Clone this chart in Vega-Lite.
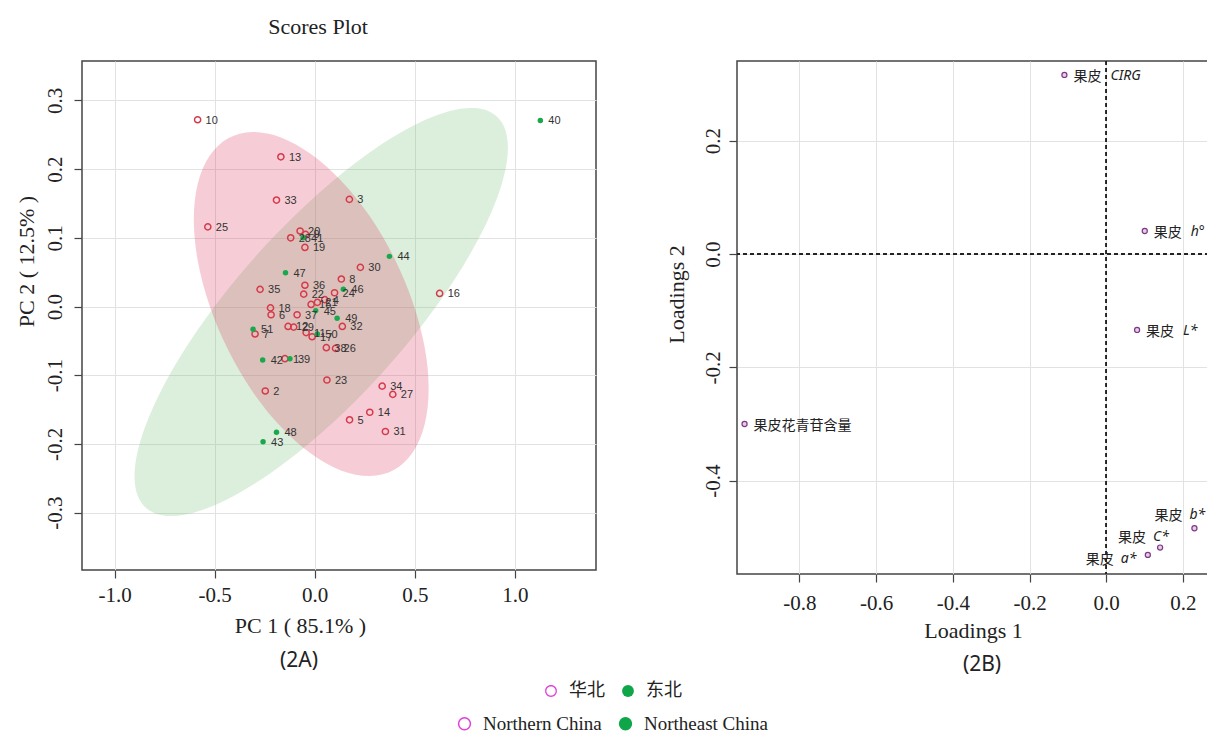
{
  "$schema": "https://vega.github.io/schema/vega-lite/v6.json",
  "background": "white",
  "padding": {"left": 14, "top": 15, "right": 0, "bottom": 0},
  "title": {"text": "Scores Plot", "anchor": "start", "frame": "bounds", "dx": 254, "offset": 21, "font": "Liberation Serif", "fontSize": 22, "fontWeight": "normal", "color": "#222"},
  "datasets": {
    "scores": [
      {"id": "10", "pc1": -0.585, "pc2": 0.272, "cn": "华北", "en": "Northern China"},
      {"id": "13", "pc1": -0.169, "pc2": 0.218, "cn": "华北", "en": "Northern China"},
      {"id": "33", "pc1": -0.191, "pc2": 0.155, "cn": "华北", "en": "Northern China"},
      {"id": "3", "pc1": 0.173, "pc2": 0.156, "cn": "华北", "en": "Northern China"},
      {"id": "25", "pc1": -0.534, "pc2": 0.116, "cn": "华北", "en": "Northern China"},
      {"id": "20", "pc1": -0.073, "pc2": 0.110, "cn": "华北", "en": "Northern China"},
      {"id": "9", "pc1": -0.046, "pc2": 0.105, "cn": "华北", "en": "Northern China"},
      {"id": "28", "pc1": -0.120, "pc2": 0.100, "cn": "华北", "en": "Northern China"},
      {"id": "19", "pc1": -0.049, "pc2": 0.086, "cn": "华北", "en": "Northern China"},
      {"id": "30", "pc1": 0.228, "pc2": 0.057, "cn": "华北", "en": "Northern China"},
      {"id": "8", "pc1": 0.133, "pc2": 0.040, "cn": "华北", "en": "Northern China"},
      {"id": "36", "pc1": -0.049, "pc2": 0.031, "cn": "华北", "en": "Northern China"},
      {"id": "35", "pc1": -0.273, "pc2": 0.025, "cn": "华北", "en": "Northern China"},
      {"id": "24", "pc1": 0.099, "pc2": 0.020, "cn": "华北", "en": "Northern China"},
      {"id": "22", "pc1": -0.055, "pc2": 0.018, "cn": "华北", "en": "Northern China"},
      {"id": "16", "pc1": 0.624, "pc2": 0.019, "cn": "华北", "en": "Northern China"},
      {"id": "4", "pc1": 0.050, "pc2": 0.010, "cn": "华北", "en": "Northern China"},
      {"id": "21", "pc1": 0.013, "pc2": 0.006, "cn": "华北", "en": "Northern China"},
      {"id": "15", "pc1": -0.018, "pc2": 0.003, "cn": "华北", "en": "Northern China"},
      {"id": "18", "pc1": -0.221, "pc2": -0.002, "cn": "华北", "en": "Northern China"},
      {"id": "6", "pc1": -0.218, "pc2": -0.012, "cn": "华北", "en": "Northern China"},
      {"id": "37", "pc1": -0.088, "pc2": -0.012, "cn": "华北", "en": "Northern China"},
      {"id": "32", "pc1": 0.138, "pc2": -0.029, "cn": "华北", "en": "Northern China"},
      {"id": "7", "pc1": -0.298, "pc2": -0.040, "cn": "华北", "en": "Northern China"},
      {"id": "12", "pc1": -0.133, "pc2": -0.029, "cn": "华北", "en": "Northern China"},
      {"id": "29", "pc1": -0.105, "pc2": -0.030, "cn": "华北", "en": "Northern China"},
      {"id": "11", "pc1": -0.043, "pc2": -0.038, "cn": "华北", "en": "Northern China"},
      {"id": "17", "pc1": -0.013, "pc2": -0.044, "cn": "华北", "en": "Northern China"},
      {"id": "38", "pc1": 0.058, "pc2": -0.060, "cn": "华北", "en": "Northern China"},
      {"id": "26", "pc1": 0.104, "pc2": -0.061, "cn": "华北", "en": "Northern China"},
      {"id": "1", "pc1": -0.149, "pc2": -0.076, "cn": "华北", "en": "Northern China"},
      {"id": "23", "pc1": 0.061, "pc2": -0.107, "cn": "华北", "en": "Northern China"},
      {"id": "2", "pc1": -0.247, "pc2": -0.123, "cn": "华北", "en": "Northern China"},
      {"id": "34", "pc1": 0.337, "pc2": -0.116, "cn": "华北", "en": "Northern China"},
      {"id": "27", "pc1": 0.390, "pc2": -0.128, "cn": "华北", "en": "Northern China"},
      {"id": "14", "pc1": 0.275, "pc2": -0.154, "cn": "华北", "en": "Northern China"},
      {"id": "5", "pc1": 0.174, "pc2": -0.165, "cn": "华北", "en": "Northern China"},
      {"id": "31", "pc1": 0.353, "pc2": -0.182, "cn": "华北", "en": "Northern China"},
      {"id": "40", "pc1": 1.127, "pc2": 0.271, "cn": "东北", "en": "Northeast China"},
      {"id": "41", "pc1": -0.058, "pc2": 0.100, "cn": "东北", "en": "Northeast China"},
      {"id": "44", "pc1": 0.373, "pc2": 0.073, "cn": "东北", "en": "Northeast China"},
      {"id": "47", "pc1": -0.146, "pc2": 0.049, "cn": "东北", "en": "Northeast China"},
      {"id": "46", "pc1": 0.143, "pc2": 0.025, "cn": "东北", "en": "Northeast China"},
      {"id": "45", "pc1": 0.005, "pc2": -0.006, "cn": "东北", "en": "Northeast China"},
      {"id": "49", "pc1": 0.112, "pc2": -0.017, "cn": "东北", "en": "Northeast China"},
      {"id": "51", "pc1": -0.308, "pc2": -0.033, "cn": "东北", "en": "Northeast China"},
      {"id": "50", "pc1": 0.013, "pc2": -0.040, "cn": "东北", "en": "Northeast China"},
      {"id": "42", "pc1": -0.260, "pc2": -0.078, "cn": "东北", "en": "Northeast China"},
      {"id": "39", "pc1": -0.124, "pc2": -0.076, "cn": "东北", "en": "Northeast China"},
      {"id": "48", "pc1": -0.191, "pc2": -0.183, "cn": "东北", "en": "Northeast China"},
      {"id": "43", "pc1": -0.258, "pc2": -0.197, "cn": "东北", "en": "Northeast China"}
    ],
    "ell": [
      {"g": "N", "i": 0, "x": 0.569, "y": -0.1196},
      {"g": "N", "i": 1, "x": 0.549, "y": -0.1718},
      {"g": "N", "i": 2, "x": 0.490, "y": -0.2122},
      {"g": "N", "i": 3, "x": 0.397, "y": -0.2377},
      {"g": "N", "i": 4, "x": 0.276, "y": -0.2469},
      {"g": "N", "i": 5, "x": 0.134, "y": -0.2390},
      {"g": "N", "i": 6, "x": -0.0175, "y": -0.2145},
      {"g": "N", "i": 7, "x": -0.169, "y": -0.1752},
      {"g": "N", "i": 8, "x": -0.311, "y": -0.1237},
      {"g": "N", "i": 9, "x": -0.432, "y": -0.0635},
      {"g": "N", "i": 10, "x": -0.525, "y": 0.0012},
      {"g": "N", "i": 11, "x": -0.584, "y": 0.0662},
      {"g": "N", "i": 12, "x": -0.604, "y": 0.1268},
      {"g": "N", "i": 13, "x": -0.584, "y": 0.1790},
      {"g": "N", "i": 14, "x": -0.525, "y": 0.2194},
      {"g": "N", "i": 15, "x": -0.432, "y": 0.2449},
      {"g": "N", "i": 16, "x": -0.311, "y": 0.2541},
      {"g": "N", "i": 17, "x": -0.169, "y": 0.2462},
      {"g": "N", "i": 18, "x": -0.0175, "y": 0.2217},
      {"g": "N", "i": 19, "x": 0.134, "y": 0.1824},
      {"g": "N", "i": 20, "x": 0.276, "y": 0.1309},
      {"g": "N", "i": 21, "x": 0.397, "y": 0.0707},
      {"g": "N", "i": 22, "x": 0.490, "y": 0.0060},
      {"g": "N", "i": 23, "x": 0.549, "y": -0.0590},
      {"g": "NE", "i": 0, "x": 0.965, "y": 0.2311},
      {"g": "NE", "i": 1, "x": 0.933, "y": 0.1774},
      {"g": "NE", "i": 2, "x": 0.840, "y": 0.1109},
      {"g": "NE", "i": 3, "x": 0.692, "y": 0.0364},
      {"g": "NE", "i": 4, "x": 0.499, "y": -0.0411},
      {"g": "NE", "i": 5, "x": 0.274, "y": -0.1164},
      {"g": "NE", "i": 6, "x": 0.0326, "y": -0.1843},
      {"g": "NE", "i": 7, "x": -0.209, "y": -0.2402},
      {"g": "NE", "i": 8, "x": -0.434, "y": -0.2803},
      {"g": "NE", "i": 9, "x": -0.627, "y": -0.3018},
      {"g": "NE", "i": 10, "x": -0.775, "y": -0.3033},
      {"g": "NE", "i": 11, "x": -0.868, "y": -0.2846},
      {"g": "NE", "i": 12, "x": -0.900, "y": -0.2471},
      {"g": "NE", "i": 13, "x": -0.868, "y": -0.1934},
      {"g": "NE", "i": 14, "x": -0.775, "y": -0.1269},
      {"g": "NE", "i": 15, "x": -0.627, "y": -0.0524},
      {"g": "NE", "i": 16, "x": -0.434, "y": 0.0251},
      {"g": "NE", "i": 17, "x": -0.209, "y": 0.1004},
      {"g": "NE", "i": 18, "x": 0.0326, "y": 0.1683},
      {"g": "NE", "i": 19, "x": 0.274, "y": 0.2242},
      {"g": "NE", "i": 20, "x": 0.499, "y": 0.2643},
      {"g": "NE", "i": 21, "x": 0.692, "y": 0.2858},
      {"g": "NE", "i": 22, "x": 0.840, "y": 0.2873},
      {"g": "NE", "i": 23, "x": 0.933, "y": 0.2686}
    ],
    "loadings": [
      {"cn": "果皮", "var": "CIRG", "l1": -0.109, "l2": 0.316},
      {"cn": "果皮", "var": "h°", "l1": 0.1005, "l2": 0.0406},
      {"cn": "果皮", "var": "L*", "l1": 0.0805, "l2": -0.134},
      {"cn": "果皮花青苷含量", "var": "none", "l1": -0.943, "l2": -0.300},
      {"cn": "果皮", "var": "b*", "l1": 0.230, "l2": -0.484},
      {"cn": "果皮", "var": "C*", "l1": 0.1405, "l2": -0.518},
      {"cn": "果皮", "var": "a*", "l1": 0.1085, "l2": -0.531}
    ]
  },
  "spacing": 67,
  "resolve": {
    "scale": {"color": "shared", "shape": "shared", "stroke": "shared", "fill": "shared"},
    "legend": {"color": "shared", "shape": "shared", "stroke": "shared", "fill": "shared"}
  },
  "hconcat": [
    {
      "width": 514,
      "height": 509,
      "title": {"text": "(2A)", "orient": "bottom", "font": "Noto Sans", "fontSize": 21, "fontWeight": "normal", "color": "#222", "dx": -40, "offset": 14},
      "layer": [
        {
          "data": {"name": "ell"},
          "transform": [{"filter": "datum.g == 'NE'"}],
          "mark": {"type": "line", "interpolate": "cardinal-closed", "fill": "#73bb73", "fillOpacity": 0.25, "strokeOpacity": 0, "clip": true},
          "encoding": {
            "x": {"field": "x", "type": "quantitative", "scale": {"domain": [-1.1625, 1.405], "nice": false, "zero": false},
              "axis": {"values": [-1, -0.5, 0, 0.5, 1], "format": ".1f", "labelExpr": "replace(datum.label, '\u2212', '-')", "title": "PC 1 ( 85.1% )", "titleX": 218, "labelPadding": 6, "titlePadding": 10}},
            "y": {"field": "y", "type": "quantitative", "scale": {"domain": [-0.3837, 0.3575], "nice": false, "zero": false},
              "axis": {"values": [-0.3, -0.2, -0.1, 0, 0.1, 0.2, 0.3], "format": ".1f", "labelExpr": "replace(datum.label, '\u2212', '-')", "labelAngle": 270, "title": "PC 2 ( 12.5% )", "titleY": 200, "labelPadding": 9, "titlePadding": 6}},
            "order": {"field": "i", "type": "quantitative"}
          }
        },
        {
          "data": {"name": "ell"},
          "transform": [{"filter": "datum.g == 'N'"}],
          "mark": {"type": "line", "interpolate": "cardinal-closed", "fill": "#db375b", "fillOpacity": 0.25, "strokeOpacity": 0, "clip": true},
          "encoding": {
            "x": {"field": "x", "type": "quantitative"},
            "y": {"field": "y", "type": "quantitative"},
            "order": {"field": "i", "type": "quantitative"}
          }
        },
        {
          "mark": {"type": "rule", "color": "#111", "strokeWidth": 1, "strokeDash": [4, 3]},
          "encoding": {"x": {"datum": 0, "type": "quantitative"}}
        },
        {
          "mark": {"type": "rule", "color": "#111", "strokeWidth": 1, "strokeDash": [4, 3]},
          "encoding": {"y": {"datum": 0, "type": "quantitative"}}
        },
        {
          "data": {"name": "scores"},
          "transform": [{"filter": "datum.pc1 > 5"}],
          "mark": {"type": "point", "filled": true, "opacity": 1},
          "encoding": {
            "x": {"field": "pc1", "type": "quantitative"},
            "y": {"field": "pc2", "type": "quantitative"},
            "color": {"field": "cn", "type": "nominal", "scale": {"domain": ["华北", "东北"], "range": ["#e33fdc", "#0fa64a"]},
              "legend": {"title": null, "orient": "bottom", "direction": "horizontal", "labelFont": "Noto Sans CJK SC", "labelFontSize": 18, "symbolOpacity": 1}},
            "shape": {"field": "cn", "type": "nominal", "scale": {"domain": ["华北", "东北"], "range": ["M0,-1A1,1,0,1,1,0,1A1,1,0,1,1,0,-1ZM0,-0.78A0.78,0.78,0,1,0,0,0.78A0.78,0.78,0,1,0,0,-0.78Z", "circle"]},
              "legend": {"title": null, "orient": "bottom", "direction": "horizontal", "labelFont": "Noto Sans CJK SC", "labelFontSize": 18, "symbolOpacity": 1}}
          }
        },
        {
          "data": {"name": "scores"},
          "transform": [{"filter": "datum.pc1 > 5"}],
          "mark": {"type": "point", "shape": "circle", "strokeWidth": 1.5, "opacity": 1},
          "encoding": {
            "x": {"field": "pc1", "type": "quantitative"},
            "y": {"field": "pc2", "type": "quantitative"},
            "stroke": {"field": "en", "type": "nominal", "scale": {"domain": ["Northern China", "Northeast China"], "range": ["#e33fdc", "#0fa64a"]},
              "legend": {"title": null, "orient": "bottom", "direction": "horizontal", "labelFont": "Liberation Serif", "labelFontSize": 19, "symbolOpacity": 1}},
            "fill": {"field": "en", "type": "nominal", "scale": {"domain": ["Northern China", "Northeast China"], "range": ["transparent", "#0fa64a"]},
              "legend": {"title": null, "orient": "bottom", "direction": "horizontal", "labelFont": "Liberation Serif", "labelFontSize": 19, "symbolOpacity": 1}}
          }
        },
        {
          "data": {"name": "scores"},
          "transform": [{"filter": "datum.cn == '华北'"}],
          "mark": {"type": "point", "shape": "circle", "size": 38, "strokeWidth": 1.5, "filled": false, "stroke": "#d63a4a", "opacity": 1},
          "encoding": {
            "x": {"field": "pc1", "type": "quantitative"},
            "y": {"field": "pc2", "type": "quantitative"}
          }
        },
        {
          "data": {"name": "scores"},
          "transform": [{"filter": "datum.cn == '东北'"}],
          "mark": {"type": "point", "shape": "circle", "size": 30, "filled": true, "fill": "#1aa84c", "opacity": 1},
          "encoding": {
            "x": {"field": "pc1", "type": "quantitative"},
            "y": {"field": "pc2", "type": "quantitative"}
          }
        },
        {
          "data": {"name": "scores"},
          "mark": {"type": "text", "align": "left", "baseline": "middle", "dx": 8, "dy": 1, "font": "Liberation Sans", "fontSize": 11, "color": "#333"},
          "encoding": {
            "x": {"field": "pc1", "type": "quantitative"},
            "y": {"field": "pc2", "type": "quantitative"},
            "text": {"field": "id"}
          }
        }
      ]
    },
    {
      "width": 472,
      "height": 513,
      "title": {"text": "(2B)", "orient": "bottom", "font": "Noto Sans", "fontSize": 21, "fontWeight": "normal", "color": "#222", "dx": 9, "offset": 13},
      "data": {"name": "loadings"},
      "layer": [
        {
          "mark": {"type": "rule", "color": "#222", "strokeWidth": 1, "strokeDash": [4, 3]},
          "encoding": {"x": {"datum": 0, "type": "quantitative", "scale": {"domain": [-0.9627, 0.268], "nice": false, "zero": false},
            "axis": {"values": [-0.8, -0.6, -0.4, -0.2, 0, 0.2], "format": ".1f", "labelExpr": "replace(datum.label, '\u2212', '-')", "title": "Loadings 1", "labelPadding": 10, "titlePadding": 7}}}
        },
        {
          "mark": {"type": "rule", "color": "#222", "strokeWidth": 1, "strokeDash": [4, 3]},
          "encoding": {"y": {"datum": 0, "type": "quantitative", "scale": {"domain": [-0.5647, 0.3406], "nice": false, "zero": false},
            "axis": {"values": [-0.4, -0.2, 0, 0.2], "format": ".1f", "labelExpr": "replace(datum.label, '\u2212', '-')", "labelAngle": 270, "title": "Loadings 2", "titleY": 233, "labelPadding": 6, "titlePadding": 14}}}
        },
        {
          "mark": {"type": "point", "shape": "circle", "size": 26, "filled": false, "fill": "#ecc8ee", "fillOpacity": 1, "stroke": "#7a3a80", "strokeWidth": 1.2, "opacity": 1},
          "encoding": {"x": {"field": "l1", "type": "quantitative"}, "y": {"field": "l2", "type": "quantitative"}}
        },
        {
          "transform": [{"filter": "datum.var == 'CIRG' || datum.var == 'h°' || datum.var == 'L*' || datum.var == 'none'"}],
          "mark": {"type": "text", "align": "left", "baseline": "middle", "dx": 9, "dy": 2, "font": "Noto Sans CJK SC", "fontSize": 14, "color": "#222", "clip": true},
          "encoding": {"x": {"field": "l1", "type": "quantitative"}, "y": {"field": "l2", "type": "quantitative"}, "text": {"field": "cn"}}
        },
        {
          "transform": [{"filter": "datum.var == 'CIRG' || datum.var == 'h°' || datum.var == 'L*'"}],
          "mark": {"type": "text", "align": "left", "baseline": "middle", "dx": 46, "dy": 1, "font": "Noto Sans", "fontStyle": "italic", "fontSize": 14, "color": "#222", "clip": true},
          "encoding": {"x": {"field": "l1", "type": "quantitative"}, "y": {"field": "l2", "type": "quantitative"}, "text": {"field": "var"}}
        },
        {
          "transform": [{"filter": "datum.var == 'b*'"}],
          "mark": {"type": "text", "align": "right", "baseline": "middle", "dx": -12, "dy": -12, "font": "Noto Sans CJK SC", "fontSize": 14, "color": "#222", "clip": true},
          "encoding": {"x": {"field": "l1", "type": "quantitative"}, "y": {"field": "l2", "type": "quantitative"}, "text": {"field": "cn"}}
        },
        {
          "transform": [{"filter": "datum.var == 'b*'"}],
          "mark": {"type": "text", "align": "left", "baseline": "middle", "dx": -5, "dy": -13, "font": "Noto Sans", "fontStyle": "italic", "fontSize": 14, "color": "#222", "clip": true},
          "encoding": {"x": {"field": "l1", "type": "quantitative"}, "y": {"field": "l2", "type": "quantitative"}, "text": {"field": "var"}}
        },
        {
          "transform": [{"filter": "datum.var == 'C*'"}],
          "mark": {"type": "text", "align": "right", "baseline": "middle", "dx": -14, "dy": -10, "font": "Noto Sans CJK SC", "fontSize": 14, "color": "#222", "clip": true},
          "encoding": {"x": {"field": "l1", "type": "quantitative"}, "y": {"field": "l2", "type": "quantitative"}, "text": {"field": "cn"}}
        },
        {
          "transform": [{"filter": "datum.var == 'C*'"}],
          "mark": {"type": "text", "align": "left", "baseline": "middle", "dx": -7, "dy": -11, "font": "Noto Sans", "fontStyle": "italic", "fontSize": 14, "color": "#222", "clip": true},
          "encoding": {"x": {"field": "l1", "type": "quantitative"}, "y": {"field": "l2", "type": "quantitative"}, "text": {"field": "var"}}
        },
        {
          "transform": [{"filter": "datum.var == 'a*'"}],
          "mark": {"type": "text", "align": "right", "baseline": "middle", "dx": -34, "dy": 5, "font": "Noto Sans CJK SC", "fontSize": 14, "color": "#222", "clip": true},
          "encoding": {"x": {"field": "l1", "type": "quantitative"}, "y": {"field": "l2", "type": "quantitative"}, "text": {"field": "cn"}}
        },
        {
          "transform": [{"filter": "datum.var == 'a*'"}],
          "mark": {"type": "text", "align": "left", "baseline": "middle", "dx": -27, "dy": 4, "font": "Noto Sans", "fontStyle": "italic", "fontSize": 14, "color": "#222", "clip": true},
          "encoding": {"x": {"field": "l1", "type": "quantitative"}, "y": {"field": "l2", "type": "quantitative"}, "text": {"field": "var"}}
        }
      ]
    }
  ],
  "config": {
    "view": {"stroke": "#444", "strokeWidth": 1.5},
    "axis": {"grid": true, "gridColor": "#e2e2e2", "gridWidth": 1, "domain": false, "ticks": true, "tickColor": "#444", "tickSize": 8, "tickWidth": 1.2,
      "labelFont": "Liberation Serif", "labelFontSize": 21, "labelColor": "#222",
      "titleFont": "Liberation Serif", "titleFontSize": 22, "titleFontWeight": "normal", "titleColor": "#222"},
    "legend": {"orient": "bottom", "direction": "horizontal", "labelColor": "#222", "symbolSize": 140, "symbolStrokeWidth": 1.5, "columnPadding": 14, "labelOffset": 9, "offset": 6,
      "layout": {"bottom": {"anchor": "middle", "direction": "vertical", "center": true, "margin": 14}}}
  }
}
